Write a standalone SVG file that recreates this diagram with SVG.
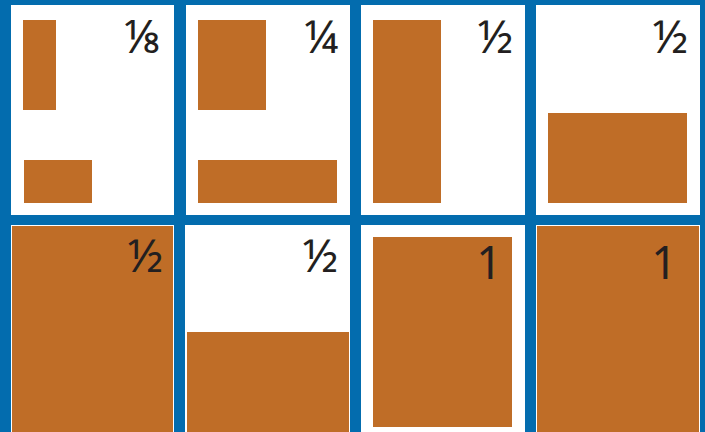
<svg xmlns="http://www.w3.org/2000/svg" width="705" height="432" viewBox="0 0 705 432">
<style>
.panel{fill:#ffffff}
.fill{fill:#bf6d27}
.lbl{font-family:"Noto Sans","DejaVu Sans",sans-serif;fill:#231f20;text-anchor:end}
.frac{font-size:46px}
.one{font-size:45px}
</style>
<rect x="0" y="0" width="705" height="432" fill="#036cae"/>
<g id="p1">
<rect class="panel" x="11" y="5" width="163" height="210"/>
<rect class="fill" x="23" y="20" width="33" height="90"/>
<rect class="fill" x="24" y="160" width="68" height="43"/>
<text class="lbl frac" x="162" y="53">⅛</text>
</g>
<g id="p2">
<rect class="panel" x="186" y="5" width="164" height="210"/>
<rect class="fill" x="198" y="20" width="68" height="90"/>
<rect class="fill" x="198" y="160" width="139" height="43"/>
<text class="lbl frac" x="338" y="53">¼</text>
</g>
<g id="p3">
<rect class="panel" x="361" y="5" width="164" height="210"/>
<rect class="fill" x="373" y="20" width="68" height="183"/>
<text class="lbl frac" x="513" y="53">½</text>
</g>
<g id="p4">
<rect class="panel" x="536" y="5" width="164" height="210"/>
<rect class="fill" x="548" y="113" width="139" height="90"/>
<text class="lbl frac" x="688" y="53">½</text>
</g>
<g id="p5">
<rect class="panel" x="11" y="225" width="163" height="207"/>
<rect class="fill" x="12" y="226" width="161" height="206"/>
<text class="lbl frac" x="163" y="272">½</text>
</g>
<g id="p6">
<rect class="panel" x="185" y="225" width="165" height="207"/>
<rect class="fill" x="187" y="332" width="162" height="100"/>
<text class="lbl frac" x="338" y="272">½</text>
</g>
<g id="p7">
<rect class="panel" x="361" y="225" width="164" height="207"/>
<rect class="fill" x="373" y="237" width="139" height="190"/>
<text class="lbl one" x="502" y="279">1</text>
</g>
<g id="p8">
<rect class="panel" x="536" y="225" width="164" height="207"/>
<rect class="fill" x="537" y="226" width="162" height="206"/>
<text class="lbl one" x="677" y="279">1</text>
</g>
</svg>
